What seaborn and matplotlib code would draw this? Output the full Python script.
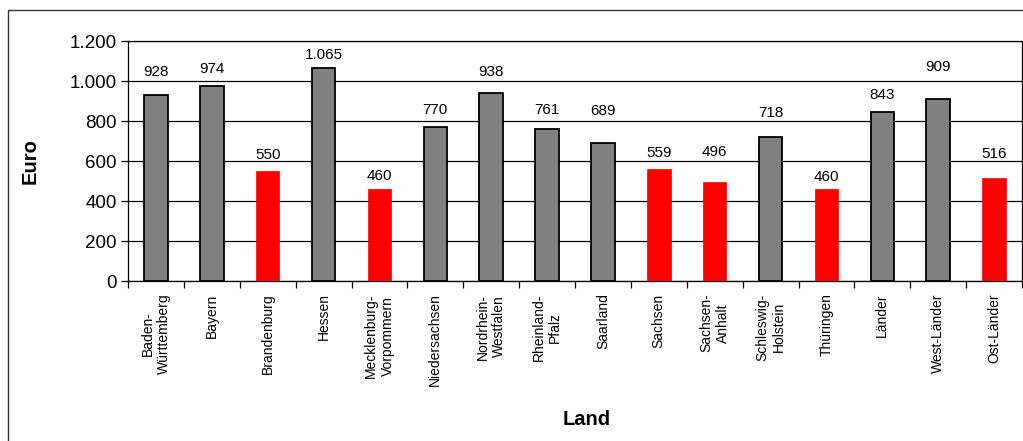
import matplotlib
matplotlib.use("Agg")
import matplotlib.pyplot as plt
import matplotlib.patches as mpatches
from matplotlib.ticker import FuncFormatter, FixedLocator
import seaborn as sns
import pandas as pd

# ---- data ----
laender = ["Baden-\nWürttemberg", "Bayern", "Brandenburg", "Hessen",
           "Mecklenburg-\nVorpommern", "Niedersachsen", "Nordrhein-\nWestfalen",
           "Rheinland-\nPfalz", "Saarland", "Sachsen", "Sachsen-\nAnhalt",
           "Schleswig-\nHolstein", "Thüringen", "Länder", "West-Länder", "Ost-Länder"]
werte = [928, 974, 550, 1065, 460, 770, 938, 761, 689, 559, 496, 718, 460, 843, 909, 516]
gruppe = ["West", "West", "Ost", "West", "Ost", "West", "West", "West", "West",
          "Ost", "Ost", "West", "Ost", "West", "West", "Ost"]
y_ticks = [0, 200, 400, 600, 800, 1000, 1200]

# label offsets above bar top (pixels), as positioned in the original
label_offsets_px = [23, 17, 16, 13, 13, 17, 21, 19, 32, 16, 30, 24, 12, 17, 32, 24]

df = pd.DataFrame({"Land": laender, "Euro": werte, "Gruppe": gruppe})

sns.set_theme(style="white")
plt.rcParams["font.family"] = ["Liberation Sans", "DejaVu Sans"]
plt.rcParams["text.color"] = "black"
plt.rcParams["axes.labelcolor"] = "black"
plt.rcParams["xtick.color"] = "black"
plt.rcParams["ytick.color"] = "black"

fig = plt.figure(figsize=(10.23, 4.41), dpi=100)
ax = fig.add_axes([128 / 1023, 1 - 281 / 441, 894 / 1023, 240 / 441])

sns.barplot(data=df, x="Land", y="Euro", hue="Gruppe",
            palette={"West": "#808080", "Ost": "#ff0000"}, saturation=1,
            dodge=False, width=0.42, legend=False, ax=ax, zorder=3)

for p in ax.patches:
    fc = p.get_facecolor()
    if fc[0] > 0.9 and fc[1] < 0.1:
        p.set_edgecolor("#ff0000")
        p.set_linewidth(0.5)
    else:
        p.set_edgecolor("black")
        p.set_linewidth(1.3)

fmt = lambda v: f"{int(v):,}".replace(",", ".")

for i, (v, off) in enumerate(zip(werte, label_offsets_px)):
    ax.annotate(fmt(v), xy=(i, v), xytext=(0, off * 0.72), textcoords="offset points",
                ha="center", va="center", fontsize=11, color="black", zorder=4)

ax.set_ylim(0, 1200)
ax.set_xlim(-0.5, len(laender) - 0.5)
ax.set_yticks(y_ticks)
ax.yaxis.set_major_formatter(FuncFormatter(lambda v, _: fmt(v)))
ax.grid(axis="y", color="black", linewidth=0.9, zorder=0)
ax.grid(axis="x", visible=False)

ax.set_xticks(range(len(laender)))
ax.set_xticklabels(laender, rotation=90, fontsize=10, ha="center", va="top",
                   multialignment="center", color="black")
ax.xaxis.set_minor_locator(FixedLocator([i - 0.5 for i in range(len(laender) + 1)]))
ax.tick_params(axis="x", which="major", length=0, pad=9)
ax.tick_params(axis="x", which="minor", length=5, width=0.9, color="black", direction="out", bottom=True)
ax.tick_params(axis="y", length=5, width=0.9, color="black", direction="out", left=True,
               labelsize=13.5, pad=3, labelcolor="black")

for s in ax.spines.values():
    s.set_visible(True)
    s.set_color("black")
    s.set_linewidth(0.9)

ax.set_ylabel("Euro", fontsize=14.5, fontweight="bold", color="black")
ax.set_xlabel("Land", fontsize=14.5, fontweight="bold", color="black")
ax.yaxis.set_label_coords((40 - 128) / 894, (281 - 161) / 240)
ax.xaxis.set_label_coords((587 - 128) / 894, -(410 - 281) / 240)

# outer chart frame
frame = mpatches.Rectangle((8 / 1023, -0.2), 1.2, 1 - 10 / 441 + 0.2,
                           transform=fig.transFigure, fill=False,
                           edgecolor="#333333", linewidth=1.0)
fig.patches.append(frame)

fig.savefig("out.png", dpi=100, facecolor="white")
